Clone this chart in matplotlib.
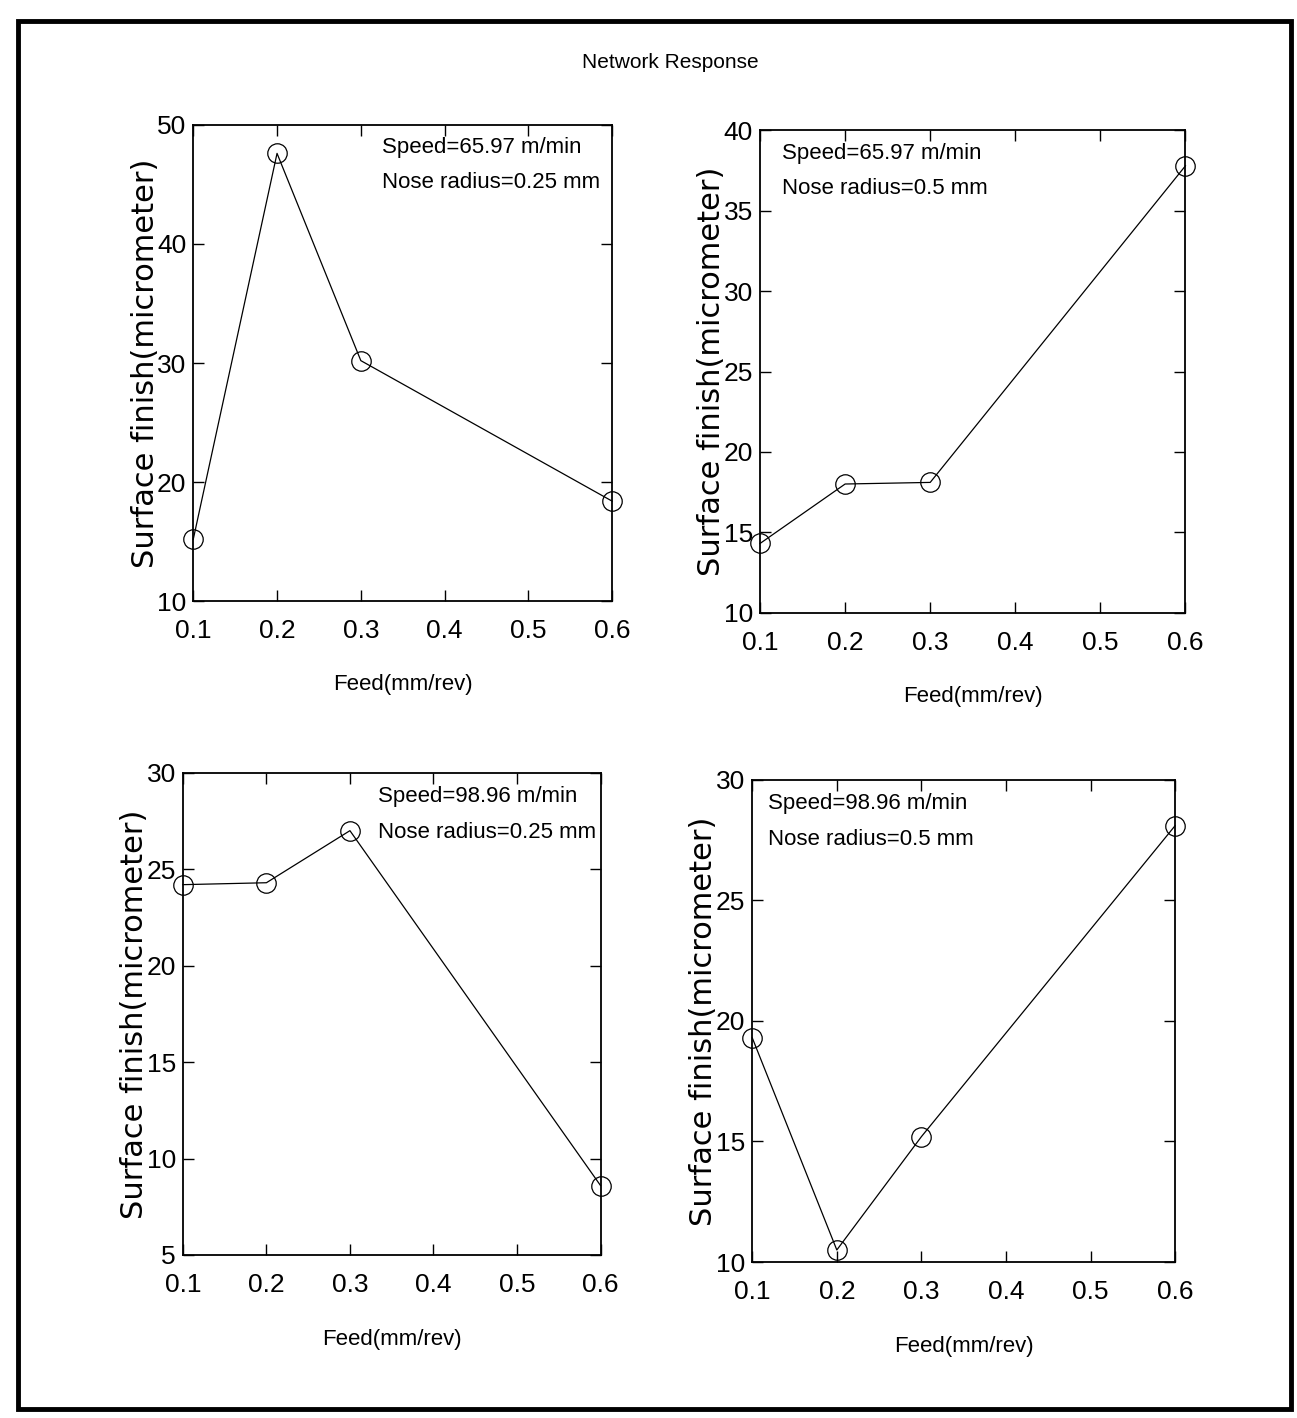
import matplotlib
matplotlib.use("Agg")
import matplotlib.pyplot as plt
from matplotlib.patches import Rectangle

# feed values shared by all four panels
feed = [0.1, 0.2, 0.3, 0.6]
xticks = [0.1, 0.2, 0.3, 0.4, 0.5, 0.6]

# surface finish
sf_v66_r025 = [15.2, 47.6, 30.2, 18.4]
sf_v66_r05 = [14.3, 18.0, 18.1, 37.8]
sf_v99_r025 = [24.2, 24.3, 27.0, 8.6]
sf_v99_r05 = [19.3, 10.5, 15.2, 28.1]

notes = ["Speed=65.97 m/min\nNose radius=0.25 mm",
         "Speed=65.97 m/min\nNose radius=0.5 mm",
         "Speed=98.96 m/min\nNose radius=0.25 mm",
         "Speed=98.96 m/min\nNose radius=0.5 mm"]

ylims = [(10, 50), (10, 40), (5, 30), (10, 30)]
ysteps = [10, 5, 5, 5]

narrow = ['Liberation Sans', 'DejaVu Sans']
wide = ['DejaVu Sans']

fig = plt.figure(figsize=(12.97, 14.18), dpi=100)

# axes rectangles in figure fractions
boxes = [[0.149, 0.576, 0.323, 0.336],
         [0.586, 0.568, 0.328, 0.340],
         [0.141, 0.115, 0.322, 0.340],
         [0.580, 0.110, 0.326, 0.340]]
note_pos = [(0.45, 0.975), (0.052, 0.975), (0.468, 0.972), (0.038, 0.972)]
series = [sf_v66_r025, sf_v66_r05, sf_v99_r025, sf_v99_r05]

for box, ys, lim, step, note, npos in zip(boxes, series, ylims, ysteps, notes, note_pos):
    ax = fig.add_axes(box)
    ax.plot(feed, ys, color='black', linewidth=0.9, marker='o', markersize=14,
            markerfacecolor='none', markeredgecolor='black', markeredgewidth=0.9,
            clip_on=False)
    ax.set_xlim(0.1, 0.6)
    ax.set_ylim(*lim)
    ax.set_xticks(xticks)
    ax.set_xticklabels([f"{t:.1f}" for t in xticks])
    ax.set_yticks(list(range(lim[0], lim[1] + 1, step)))
    ax.tick_params(direction='in', top=True, right=True, length=8, width=1,
                   labelsize=19)
    ax.tick_params(axis='x', pad=13)
    ax.tick_params(axis='y', pad=5)
    for lab in ax.get_xticklabels() + ax.get_yticklabels():
        lab.set_family(narrow)
    for s in ax.spines.values():
        s.set_linewidth(1.3)
    ax.set_xlabel("Feed(mm/rev)", family=narrow, fontsize=16)
    ax.xaxis.label.set_va('center')
    ax.xaxis.set_label_coords(0.5, -0.175)
    ax.set_ylabel("Surface finish(micrometer)", family=wide, fontsize=22)
    ax.yaxis.label.set_va('center')
    ax.yaxis.set_label_coords(-0.115, 0.5)
    ax.text(npos[0], npos[1], note, transform=ax.transAxes, ha='left', va='top',
            family=narrow, fontsize=16, linespacing=1.9)

fig.text(0.517, 0.956, "Network Response", ha='center', va='center',
         family=narrow, fontsize=15)

# outer frame of the scanned figure
fig.patches.append(Rectangle((0.014, 0.006), 0.981, 0.979, transform=fig.transFigure,
                             fill=False, edgecolor='black', linewidth=3.5))

fig.savefig("out.png", dpi=100)
